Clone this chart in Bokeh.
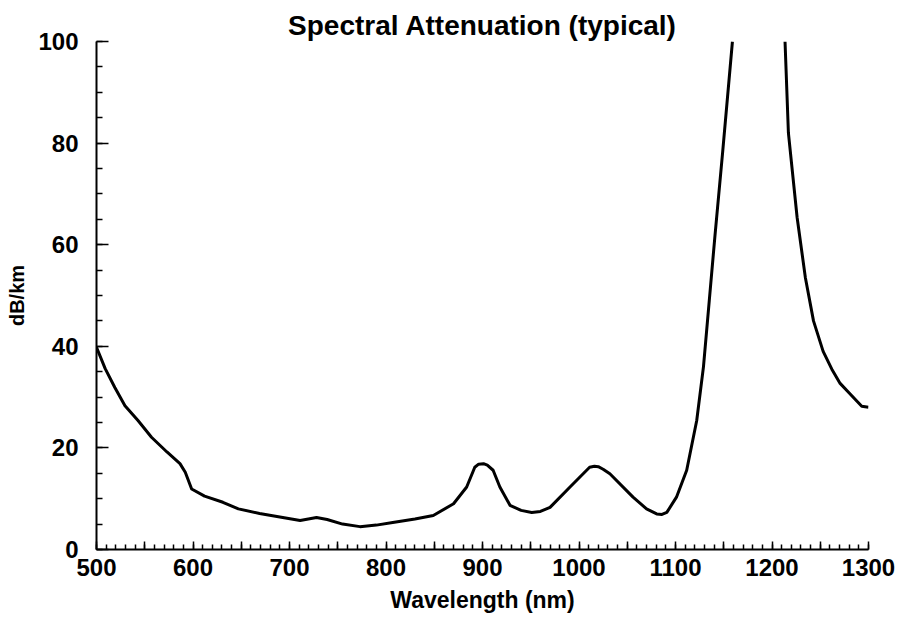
from bokeh.plotting import figure
from bokeh.models import Range1d, FixedTicker
from bokeh.embed import file_html
from bokeh.resources import INLINE

# Curve below the water peak (nm, dB/km)
wl_left = [500, 509, 519, 529.5, 543, 557, 573, 586.5, 592, 598.6, 612, 631, 647,
           669, 690, 711, 728, 739, 755, 773, 790, 807, 830, 849, 870, 883.6, 892,
           896, 901, 905, 911, 918, 928.5, 940, 951, 960, 970, 990.7, 1011, 1016,
           1020, 1025, 1032, 1056, 1070, 1080.5, 1086, 1091, 1101, 1111.6, 1122,
           1129, 1135, 1141, 1149, 1159]
att_left = [39.8, 35.6, 31.9, 28.3, 25.4, 22.1, 19.2, 16.9, 15.2, 11.9, 10.5, 9.3, 8.0,
            7.1, 6.4, 5.7, 6.3, 5.9, 5.0, 4.5, 4.8, 5.3, 6.0, 6.7, 9.0, 12.3, 16.2,
            16.8, 16.9, 16.6, 15.6, 12.3, 8.7, 7.7, 7.3, 7.5, 8.3, 12.3, 16.2, 16.4,
            16.3, 15.8, 14.9, 10.3, 8.0, 7.0, 6.9, 7.3, 10.3, 15.6, 25.4,
            36, 49, 62, 78.5, 100]
# Curve above the water peak
wl_right = [1213.5, 1217, 1226, 1234.6, 1243, 1253, 1262, 1270.6, 1280, 1293, 1300]
att_right = [100, 82, 65.4, 53.5, 45, 39, 35.5, 32.7, 30.8, 28.2, 28]

x_ticks = list(range(500, 1301, 50))
x_minor = list(range(500, 1301, 10))
y_ticks = [0, 20, 40, 60, 80, 100]
y_minor = list(range(0, 101, 5))

FONT = "Liberation Sans"

p = figure(width=897, height=619, output_backend="svg", toolbar_location=None,
           x_range=Range1d(500, 1300), y_range=Range1d(0, 100),
           min_border_left=96, min_border_right=29, min_border_top=41, min_border_bottom=70,
           title="Spectral Attenuation (typical)")
p.title.text_font = FONT
p.title.text_font_size = "28px"
p.title.text_font_style = "bold"
p.title.text_color = "black"
p.title.align = "center"
p.title.standoff = 1

p.outline_line_color = None
p.grid.visible = False
p.background_fill_color = "white"
p.border_fill_color = "white"

p.line(wl_left, att_left, line_color="black", line_width=3, line_join="round")
p.line(wl_right, att_right, line_color="black", line_width=3, line_join="round")

xa = p.xaxis[0]
xa.ticker = FixedTicker(ticks=x_ticks, minor_ticks=x_minor)
xa.major_label_overrides = {t: ("" if t % 100 else str(t)) for t in x_ticks}
xa.axis_label = "Wavelength (nm)"
ya = p.yaxis[0]
ya.ticker = FixedTicker(ticks=y_ticks, minor_ticks=y_minor)
ya.axis_label = "dB/km"

for ax in (xa, ya):
    ax.axis_line_width = 2
    ax.axis_line_color = "black"
    ax.major_tick_line_color = "black"
    ax.minor_tick_line_color = "black"
    ax.major_tick_line_width = 1.5
    ax.minor_tick_line_width = 1.5
    ax.major_tick_out = 0
    ax.minor_tick_out = 0
    ax.major_label_text_font = FONT
    ax.major_label_text_font_style = "bold"
    ax.major_label_text_font_size = "24px"
    ax.major_label_text_color = "black"
    ax.axis_label_text_font = FONT
    ax.axis_label_text_font_style = "bold"
    ax.axis_label_text_color = "black"

xa.major_tick_in = 8
xa.minor_tick_in = 5
xa.major_label_standoff = 9
xa.axis_label_text_font_size = "23px"
xa.axis_label_standoff = 8

ya.major_tick_in = 12
ya.minor_tick_in = 6
ya.major_label_standoff = 18
ya.axis_label_text_font_size = "20px"
ya.axis_label_standoff = 7

open("out.html", "w").write(file_html(p, INLINE))
